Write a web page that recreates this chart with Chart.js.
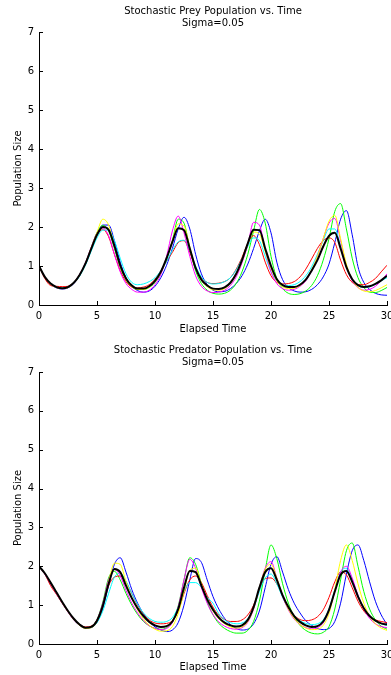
<!DOCTYPE html>
<html>
<head>
<meta charset="utf-8">
<script src="https://cdn.jsdelivr.net/npm/chart.js@4.4.1/dist/chart.umd.min.js"></script>
<style>
  html, body { margin: 0; padding: 0; background: #fff; }
  #wrap { position: relative; width: 391px; height: 675px; }
  canvas { position: absolute; left: 0; }
  #prey { top: 0; }
  #pred { top: 337px; }
</style>
</head>
<body>
<div id="wrap">
  <canvas id="prey" width="391" height="337"></canvas>
  <canvas id="pred" width="391" height="338"></canvas>
</div>
<script>
// sample times, every 0.5 from 0 to 30
const times = [0,0.5,1,1.5,2,2.5,3,3.5,4,4.5,5,5.5,6,6.5,7,7.5,8,8.5,9,9.5,10,10.5,11,11.5,12,12.5,13,13.5,14,14.5,15,15.5,16,16.5,17,17.5,18,18.5,19,19.5,20,20.5,21,21.5,22,22.5,23,23.5,24,24.5,25,25.5,26,26.5,27,27.5,28,28.5,29,29.5,30];

const xTicks = [0, 5, 10, 15, 20, 25, 30];
const yTicks = [0, 1, 2, 3, 4, 5, 6, 7];

// ---- prey
const preyBlack   = [1.00,0.72,0.55,0.46,0.43,0.46,0.57,0.77,1.06,1.44,1.80,2.00,1.93,1.52,1.02,0.68,0.50,0.42,0.42,0.48,0.62,0.85,1.20,1.62,1.97,1.92,1.45,0.95,0.65,0.50,0.42,0.41,0.45,0.57,0.80,1.15,1.58,1.93,1.92,1.45,1.00,0.66,0.51,0.46,0.46,0.52,0.65,0.88,1.15,1.50,1.77,1.85,1.45,0.97,0.66,0.51,0.46,0.48,0.54,0.63,0.75];
const preyYellow  = [1.00,0.72,0.54,0.45,0.42,0.45,0.56,0.76,1.06,1.46,1.86,2.20,2.05,1.52,1.00,0.66,0.48,0.40,0.40,0.46,0.60,0.84,1.20,1.65,2.08,2.03,1.48,0.95,0.63,0.47,0.39,0.38,0.42,0.55,0.78,1.13,1.56,1.87,1.82,1.38,0.94,0.62,0.47,0.42,0.43,0.50,0.64,0.90,1.25,1.70,2.15,2.30,1.70,1.05,0.65,0.45,0.36,0.34,0.37,0.44,0.52];
const preyBlue    = [1.00,0.72,0.54,0.44,0.41,0.44,0.55,0.75,1.04,1.42,1.80,2.05,2.05,1.65,1.10,0.70,0.48,0.37,0.33,0.36,0.48,0.70,1.02,1.45,1.95,2.25,1.95,1.30,0.80,0.52,0.38,0.34,0.35,0.42,0.55,0.75,1.05,1.45,1.90,2.20,1.85,1.10,0.65,0.45,0.36,0.33,0.34,0.40,0.52,0.72,1.05,1.60,2.20,2.42,1.80,0.98,0.58,0.40,0.30,0.26,0.25];
const preyGreen   = [1.00,0.72,0.54,0.45,0.42,0.45,0.56,0.77,1.07,1.47,1.86,2.04,1.90,1.45,0.97,0.65,0.47,0.40,0.40,0.45,0.58,0.82,1.18,1.65,2.20,2.10,1.45,0.88,0.55,0.38,0.30,0.28,0.30,0.38,0.55,0.85,1.30,1.90,2.45,2.10,1.25,0.68,0.42,0.30,0.27,0.29,0.36,0.50,0.75,1.15,1.70,2.40,2.60,1.95,1.20,0.70,0.45,0.33,0.32,0.37,0.45];
const preyMagenta = [1.00,0.72,0.54,0.45,0.42,0.45,0.57,0.78,1.08,1.48,1.85,1.97,1.78,1.30,0.85,0.55,0.40,0.33,0.33,0.38,0.52,0.78,1.25,1.90,2.28,1.85,1.25,0.75,0.48,0.36,0.32,0.33,0.38,0.50,0.72,1.08,1.55,2.12,2.05,1.40,0.85,0.55,0.42,0.38,0.40,0.48,0.62,0.88,1.25,1.70,2.10,2.22,1.65,1.00,0.62,0.45,0.38,0.40,0.48,0.62,0.80];
const preyRed     = [1.00,0.68,0.50,0.48,0.47,0.48,0.58,0.78,1.06,1.45,1.80,1.93,1.75,1.30,0.88,0.60,0.46,0.44,0.46,0.52,0.66,0.88,1.12,1.35,1.60,1.65,1.35,0.95,0.70,0.58,0.55,0.56,0.60,0.70,0.92,1.22,1.58,1.78,1.55,1.10,0.75,0.58,0.54,0.55,0.60,0.72,0.92,1.18,1.45,1.65,1.72,1.60,1.15,0.78,0.58,0.52,0.52,0.58,0.68,0.85,1.02];
const preyCyan    = [1.00,0.72,0.55,0.46,0.43,0.46,0.56,0.74,1.02,1.38,1.72,1.92,1.92,1.65,1.20,0.80,0.58,0.52,0.54,0.60,0.70,0.88,1.12,1.40,1.62,1.66,1.40,1.00,0.72,0.58,0.54,0.55,0.60,0.70,0.90,1.18,1.50,1.72,1.65,1.25,0.85,0.62,0.52,0.50,0.52,0.60,0.75,0.98,1.30,1.65,1.95,1.95,1.50,0.98,0.66,0.50,0.45,0.47,0.53,0.62,0.70];

// ---- predator
const predBlack   = [2.00,1.82,1.58,1.33,1.08,0.85,0.65,0.50,0.42,0.44,0.60,0.98,1.55,1.93,1.85,1.50,1.18,0.92,0.72,0.57,0.48,0.44,0.46,0.58,0.90,1.45,1.88,1.85,1.50,1.15,0.88,0.68,0.55,0.48,0.45,0.48,0.62,0.95,1.45,1.85,1.95,1.65,1.25,0.95,0.72,0.57,0.48,0.44,0.46,0.58,0.88,1.35,1.78,1.88,1.60,1.22,0.92,0.72,0.60,0.53,0.50];
const predYellow  = [2.00,1.82,1.57,1.32,1.06,0.83,0.63,0.48,0.40,0.42,0.58,0.98,1.60,2.08,2.05,1.60,1.18,0.88,0.65,0.48,0.38,0.33,0.34,0.45,0.78,1.35,1.90,1.95,1.55,1.15,0.85,0.65,0.52,0.44,0.41,0.44,0.58,0.92,1.45,1.92,2.05,1.70,1.25,0.90,0.66,0.50,0.41,0.37,0.38,0.48,0.78,1.40,2.15,2.55,2.15,1.55,1.05,0.72,0.52,0.41,0.35];
const predBlue    = [2.00,1.82,1.57,1.32,1.06,0.83,0.63,0.48,0.41,0.42,0.56,0.92,1.50,2.05,2.22,1.85,1.40,1.05,0.78,0.58,0.44,0.36,0.32,0.36,0.55,1.00,1.65,2.20,2.10,1.65,1.22,0.90,0.66,0.50,0.40,0.36,0.38,0.52,0.85,1.45,2.05,2.25,1.85,1.40,1.05,0.80,0.60,0.48,0.40,0.37,0.40,0.58,1.05,1.80,2.40,2.55,2.15,1.60,1.10,0.75,0.50];
const predGreen   = [2.00,1.82,1.58,1.33,1.07,0.84,0.64,0.49,0.42,0.45,0.63,1.08,1.70,1.87,1.65,1.30,1.00,0.76,0.58,0.47,0.40,0.38,0.42,0.58,0.98,1.65,2.22,2.05,1.55,1.08,0.75,0.53,0.40,0.32,0.28,0.28,0.35,0.58,1.10,1.90,2.55,2.20,1.55,1.05,0.70,0.48,0.35,0.28,0.26,0.30,0.45,0.90,1.65,2.40,2.60,2.00,1.35,0.90,0.62,0.46,0.38];
const predMagenta = [2.00,1.80,1.55,1.30,1.05,0.82,0.62,0.48,0.41,0.44,0.62,1.05,1.65,1.92,1.75,1.38,1.05,0.80,0.60,0.47,0.40,0.37,0.40,0.55,0.95,1.65,2.18,1.95,1.45,1.05,0.76,0.57,0.46,0.40,0.38,0.42,0.56,0.90,1.45,1.95,2.12,1.70,1.22,0.88,0.64,0.50,0.42,0.39,0.42,0.54,0.85,1.35,1.85,2.00,1.70,1.25,0.90,0.66,0.52,0.45,0.42];
const predRed     = [2.00,1.80,1.50,1.28,1.05,0.83,0.63,0.50,0.44,0.46,0.62,1.00,1.50,1.72,1.75,1.60,1.30,1.00,0.78,0.62,0.54,0.52,0.53,0.60,0.85,1.30,1.65,1.75,1.58,1.25,0.95,0.74,0.63,0.58,0.58,0.62,0.75,1.00,1.40,1.68,1.70,1.55,1.25,0.95,0.74,0.63,0.60,0.62,0.70,0.88,1.20,1.60,1.85,1.78,1.45,1.10,0.85,0.70,0.62,0.58,0.55];
const predCyan    = [2.00,1.82,1.57,1.32,1.06,0.83,0.63,0.48,0.41,0.43,0.55,0.85,1.30,1.72,1.82,1.62,1.30,1.02,0.80,0.66,0.58,0.56,0.58,0.68,0.95,1.35,1.58,1.58,1.45,1.20,1.05,0.78,0.62,0.55,0.52,0.54,0.65,0.92,1.35,1.70,1.80,1.55,1.20,0.92,0.72,0.60,0.53,0.50,0.52,0.62,0.90,1.40,1.85,1.95,1.65,1.25,0.92,0.72,0.60,0.52,0.48];

const FONT = "'DejaVu Sans', 'Liberation Sans', sans-serif";

function pts(vals) {
  return vals.map((v, i) => ({ x: times[i], y: v }));
}

function line(vals, color, width) {
  return {
    data: pts(vals),
    borderColor: color,
    borderWidth: width,
    pointRadius: 0,
    tension: 0.35,
    cubicInterpolationMode: "monotone",
    fill: false
  };
}

// ticks pointing into the plot, like the original
const inwardTicks = {
  id: "inwardTicks",
  afterDraw(chart) {
    const { ctx, chartArea: ca, scales } = chart;
    ctx.save();
    ctx.strokeStyle = "#000";
    ctx.lineWidth = 1;
    ctx.beginPath();
    xTicks.forEach((t) => {
      const px = Math.round(scales.x.getPixelForValue(t)) + 0.5;
      ctx.moveTo(px, ca.bottom);
      ctx.lineTo(px, ca.bottom - 4);
    });
    yTicks.forEach((t) => {
      const py = Math.round(scales.y.getPixelForValue(t)) + 0.5;
      ctx.moveTo(ca.left, py);
      ctx.lineTo(ca.left + 4, py);
    });
    ctx.stroke();
    ctx.restore();
  }
};

function makeChart(id, titleText, series, titlePad, xHeight) {
  const ctx = document.getElementById(id).getContext("2d");
  return new Chart(ctx, {
    type: "line",
    data: {
      datasets: [
        line(series[0], "#000000", 2),
        line(series[1], "#ffff00", 1),
        line(series[2], "#ff00ff", 1),
        line(series[3], "#00ffff", 1),
        line(series[4], "#ff0000", 1),
        line(series[5], "#00ff00", 1),
        line(series[6], "#0000ff", 1)
      ]
    },
    options: {
      responsive: false,
      animation: false,
      events: [],
      layout: { padding: { left: 0, right: 4, top: 0, bottom: 0 } },
      plugins: {
        legend: { display: false },
        tooltip: { enabled: false },
        title: {
          display: true,
          fullSize: false,
          text: [titleText, "Sigma=0.05"],
          color: "#000",
          font: { family: FONT, size: 10, weight: "normal", lineHeight: 1.15 },
          padding: titlePad
        }
      },
      scales: {
        x: {
          type: "linear",
          min: 0,
          max: 30,
          afterBuildTicks: (s) => { s.ticks = xTicks.map((v) => ({ value: v })); },
          afterFit: (s) => { s.height = xHeight; s.paddingLeft = 0; s.paddingRight = 0; },
          grid: { display: true, drawOnChartArea: false, drawTicks: false },
          border: { display: true, color: "#000", width: 1 },
          ticks: { color: "#000", padding: 5, maxRotation: 0, font: { family: FONT, size: 10 } },
          title: {
            display: true,
            text: "Elapsed Time",
            color: "#000",
            font: { family: FONT, size: 10 },
            padding: { top: 0, bottom: 2 }
          }
        },
        y: {
          min: 0,
          max: 7,
          afterBuildTicks: (s) => { s.ticks = yTicks.map((v) => ({ value: v })); },
          afterFit: (s) => { s.width = 39; },
          grid: { display: true, drawOnChartArea: false, drawTicks: false },
          border: { display: true, color: "#000", width: 1 },
          ticks: { color: "#000", padding: 5, font: { family: FONT, size: 10 } },
          title: {
            display: true,
            text: "Population Size",
            color: "#000",
            font: { family: FONT, size: 10 },
            padding: { top: 12, bottom: 0 }
          }
        }
      }
    },
    plugins: [inwardTicks]
  });
}

makeChart(
  "prey",
  "Stochastic Prey Population vs. Time",
  [preyBlack, preyYellow, preyMagenta, preyCyan, preyRed, preyGreen, preyBlue],
  { top: 6, bottom: 3 },
  32
);

makeChart(
  "pred",
  "Stochastic Predator Population vs. Time",
  [predBlack, predYellow, predMagenta, predCyan, predRed, predGreen, predBlue],
  { top: 8, bottom: 4 },
  31
);
</script>
</body>
</html>
